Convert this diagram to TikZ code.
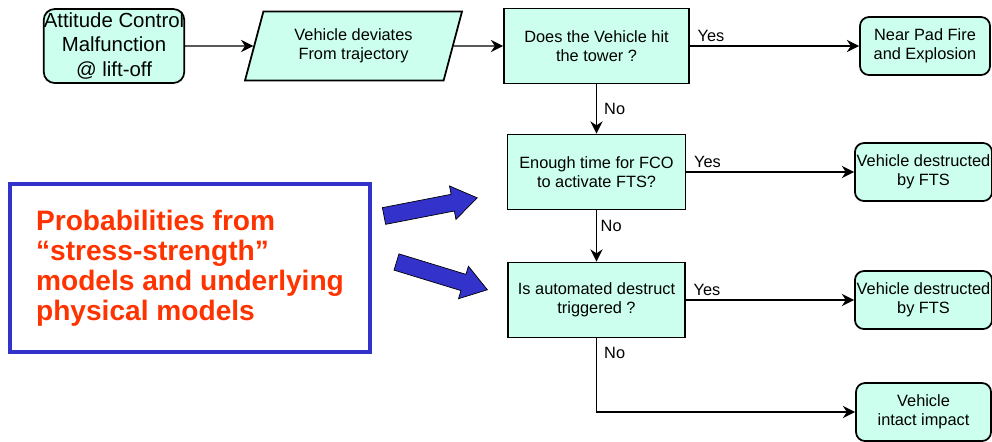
\documentclass[tikz,border=0pt]{standalone}
\usepackage{fontspec}
\setmainfont{Liberation Sans}
\usetikzlibrary{shapes.geometric, arrows.meta}
\definecolor{boxfill}{RGB}{204,255,238}
\definecolor{noteblue}{RGB}{51,51,204}
\definecolor{notered}{RGB}{255,51,0}

\begin{document}
\begin{tikzpicture}[
  font=\fontsize{9.3pt}{10.8pt}\selectfont,
  base/.style={draw, line width=1pt, fill=boxfill, align=center, inner sep=1pt},
  decision/.style={base, rectangle, minimum height=1.5cm},
  endbox/.style={base, rectangle, rounded corners=0.18cm, minimum width=2.7cm, minimum height=1.16cm},
  iobox/.style={base, trapezium, trapezium left angle=64, trapezium right angle=116, trapezium stretches body, minimum width=4.34cm, minimum height=1.38cm},
  arrow/.style={-{Stealth[length=7pt, width=7pt]}, line width=0.8pt},
  elabel/.style={inner sep=2pt},
  bigarrow/.style={draw=black, line width=0.4pt, fill=noteblue},
]
\useasboundingbox (0,0) rectangle (19.84,-8.82);

\node[base, rectangle, rounded corners=0.22cm, minimum width=2.76cm, minimum height=1.48cm, inner xsep=0pt, font=\fontsize{11.6pt}{14pt}\selectfont] (start) at (2.28,-0.92) {Attitude Control\\Malfunction\\@ lift-off};
\node[iobox] (deviate) at (7.07,-0.92) {Vehicle deviates\\From trajectory};
\node[decision, minimum width=3.70cm] (q1) at (11.93,-0.92) {Does the Vehicle hit\\the tower ?};
\node[decision, minimum width=3.56cm] (q2) at (11.93,-3.44) {Enough time for FCO\\to activate FTS?};
\node[decision, minimum width=3.54cm] (q3) at (11.93,-6.00) {Is automated destruct\\triggered ?};
\node[endbox, minimum width=2.6cm] (padfire) at (18.50,-0.92) {Near Pad Fire\\and Explosion};
\node[endbox] (fts1) at (18.47,-3.44) {Vehicle destructed\\by FTS};
\node[endbox] (fts2) at (18.47,-6.00) {Vehicle destructed\\by FTS};
\node[endbox] (impact) at (18.47,-8.24) {Vehicle\\intact impact};

\node[draw=noteblue, line width=2pt, minimum width=7.2cm, minimum height=3.36cm, align=left, text=notered, font=\fontsize{16pt}{17.1pt}\selectfont\bfseries] (note) at (3.80,-5.36) {Probabilities from\\“stress-strength”\\models and underlying\\physical models};

% block arrows from the note
\draw[bigarrow, shift={(7.68,-4.32)}, rotate=11] (0,-0.17) -- (1.4,-0.17) -- (1.4,-0.34) -- (1.9,0) -- (1.4,0.34) -- (1.4,0.17) -- (0,0.17) -- cycle;
\draw[bigarrow, shift={(7.93,-5.24)}, rotate=-17] (0,-0.17) -- (1.4,-0.17) -- (1.4,-0.34) -- (1.9,0) -- (1.4,0.34) -- (1.4,0.17) -- (0,0.17) -- cycle;

\draw[arrow] (start) -- (deviate);
\draw[arrow] (deviate) -- (q1);
\draw[arrow] (q1) -- node[elabel, pos=0, above right, xshift=2pt] {Yes} (padfire);
\draw[arrow] (q1) -- node[elabel, midway, right, xshift=2pt] {No} (q2);
\draw[arrow] (q2) -- node[elabel, pos=0, above right, xshift=2pt] {Yes} (fts1);
\draw[arrow] (q2) -- node[elabel, pos=0.3, right] {No} (q3);
\draw[arrow] (q3) -- node[elabel, pos=0, above right, xshift=2pt] {Yes} (fts2);
\draw[arrow] (q3) |- node[elabel, pos=0.1, right, xshift=2pt] {No} (impact);
\end{tikzpicture}
\end{document}
